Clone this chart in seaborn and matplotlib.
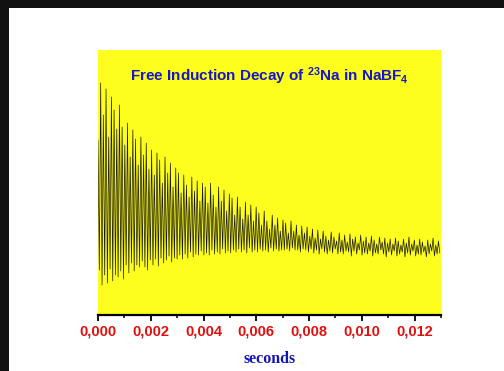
import numpy as np
import pandas as pd
import seaborn as sns
import matplotlib
matplotlib.use("Agg")
import matplotlib.pyplot as plt
from matplotlib.patches import Rectangle
from matplotlib.ticker import MultipleLocator, FuncFormatter

# ---- data (arbitrary signal units) ----
# successive positive peaks of the FID, one per cycle
upper_peaks = [
    175, 232, 200, 226, 178, 218, 205, 186, 210, 188,
    170, 192, 158, 185, 176, 150, 178, 160, 172, 146,
    165, 140, 162, 155, 132, 158, 142, 152, 128, 147,
    142, 122, 140, 130, 118, 138, 124, 134, 114, 132,
    128, 112, 132, 120, 108, 128, 114, 125, 104, 121,
    117, 100, 118, 108, 96, 113, 100, 110, 94, 108,
    102, 90, 104, 94, 86, 100, 90, 97, 84, 95,
    92, 82, 94, 84, 90, 80, 89, 82, 88, 79,
    86, 77, 85, 76, 84, 79, 75, 83, 78, 74,
    82, 75, 80, 73, 81, 76, 78, 72, 80, 74,
    78, 72, 79, 75, 71, 78, 73, 77, 72, 76,
    71, 77, 74, 70, 76, 72, 78, 71, 75, 70,
    76, 73, 69, 75, 71, 77, 70, 74,
]
# successive negative peaks of the FID, one per cycle
lower_peaks = [
    45, 30, 40, 32, 46, 34, 40, 38, 44, 36,
    50, 42, 52, 44, 50, 48, 54, 48, 45, 55,
    50, 56, 49, 57, 52, 55, 59, 53, 57, 56,
    60, 56, 61, 57, 63, 58, 61, 60, 64, 60,
    62, 60, 65, 61, 63, 61, 66, 62, 64, 62,
    65, 63, 66, 63, 65, 62, 67, 63, 65, 63,
    66, 64, 65, 63, 67, 64, 66, 64, 65, 65,
    66, 64, 67, 65, 65, 63, 66, 65, 63, 66,
    62, 65, 61, 66, 63, 61, 64, 62, 66, 61,
    63, 61, 64, 63, 59, 64, 61, 65, 60, 62,
    61, 64, 59, 62, 61, 65, 61, 58, 63, 60,
    64, 59, 61, 63, 58, 62, 60, 64, 59, 61,
    60, 63, 58, 61, 64, 59, 61, 62,
]
sample_step = 5.08e-5          # seconds between successive extrema
x_ticks = [0.000, 0.002, 0.004, 0.006, 0.008, 0.010, 0.012]
x_limits = (0.0, 0.013)
title_text = r"Free Induction Decay of $^{23}$Na in NaBF$_{4}$"
x_label = "seconds"

# interleave maxima and minima into one sampled trace
signal = []
for u, l in zip(upper_peaks, lower_peaks):
    signal += [u, l]
time = np.arange(len(signal)) * sample_step
df = pd.DataFrame({"t": time, "v": signal})

# ---- style ----
sns.set_style("white")
plt.rcParams["font.family"] = ["Liberation Sans", "DejaVu Sans"]
plt.rcParams["mathtext.fontset"] = "custom"
plt.rcParams["mathtext.rm"] = "Liberation Sans:bold"
plt.rcParams["mathtext.it"] = "Liberation Sans:bold"
plt.rcParams["mathtext.bf"] = "Liberation Sans:bold"
plt.rcParams["mathtext.default"] = "rm"

W, H = 504, 371
fig = plt.figure(figsize=(W / 100, H / 100), dpi=100)
fig.patch.set_facecolor("white")
ax = fig.add_axes([98 / W, 1 - 315 / H, (441 - 98) / W, (315 - 50) / H])
ax.set_facecolor("#fdfd1e")

sns.lineplot(data=df, x="t", y="v", ax=ax, sort=False, estimator=None,
             color="#1a1a10", linewidth=0.5)

ax.set_xlim(*x_limits)
ax.set_ylim(0, 265)
ax.set_xticks(x_ticks)
ax.xaxis.set_minor_locator(MultipleLocator(0.001))
ax.xaxis.set_major_formatter(FuncFormatter(lambda v, p: f"{v:.3f}".replace(".", ",")))
ax.set_yticks([])
ax.set_ylabel("")
for s in ["left", "right", "top"]:
    ax.spines[s].set_visible(False)
ax.spines["bottom"].set_color("black")
ax.spines["bottom"].set_linewidth(1.6)
ax.tick_params(axis="x", which="major", direction="out", length=4, width=1.3,
               color="black", pad=3, labelsize=10.5, labelcolor="#e01010", bottom=True)
ax.tick_params(axis="x", which="minor", direction="out", length=2.5, width=1.1,
               color="black", bottom=True)
for lab in ax.get_xticklabels():
    lab.set_fontweight("bold")

ax.set_xlabel(x_label, fontsize=11.5, fontweight="bold", color="#1414b4",
              family=["Liberation Serif", "DejaVu Serif"], labelpad=9)

ax.text(0.5, (315 - 81) / 265, title_text, transform=ax.transAxes, ha="center",
        va="baseline", fontsize=11, fontweight="bold", color="#1717c8")

# black frame strips at the top and left edge of the image
fig.patches.append(Rectangle((0, 1 - 8 / H), 1, 8 / H, transform=fig.transFigure,
                             facecolor="#111111", edgecolor="none", zorder=10))
fig.patches.append(Rectangle((0, 0), 9 / W, 1, transform=fig.transFigure,
                             facecolor="#111111", edgecolor="none", zorder=10))

fig.savefig("out.png", dpi=100)
